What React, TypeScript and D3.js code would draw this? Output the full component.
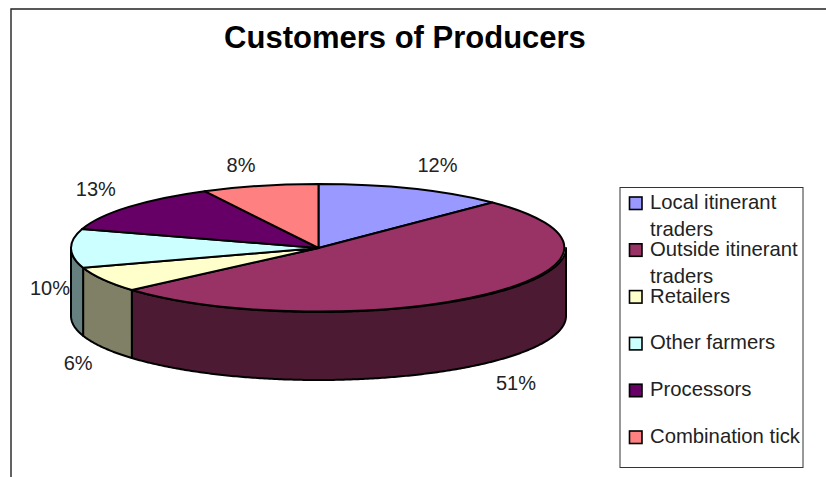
import React from 'react';
import * as d3 from 'd3';

const categories = ['Local itinerant traders', 'Outside itinerant traders', 'Retailers', 'Other farmers', 'Processors', 'Combination tick'];
const shares = [12.4, 51.2, 6.4, 9.8, 12.6, 7.6];
const topColors = ['#9999FF', '#993366', '#FFFFCC', '#CCFFFF', '#660066', '#FF8080'];
const legendLines = [['Local itinerant', 'traders'], ['Outside itinerant', 'traders'], ['Retailers'], ['Other farmers'], ['Processors'], ['Combination tick']];
// label nudge away from the rim of each slice, in px
const labelNudge = [[25, -24], [28, 20], [-25, 15], [-21, -28], [-33, -18], [-19, -21]];

const WIDTH = 826;
const HEIGHT = 477;
const cx = 318.5;
const cy = 248;
const rx = 247.5;
const ry = 64;
const depth = 68;

const rimX = (a: number) => cx + rx * Math.sin(a);
const rimY = (a: number) => cy - ry * Math.cos(a);

const pie = d3.pie<number>().sort(null).value(d => d);
const slices = pie(shares);
const unitArc = d3.arc<d3.PieArcDatum<number>>().innerRadius(0).outerRadius(1);

const wall = d3.area<number>().x(rimX).y0(rimY).y1(a => rimY(a) + depth);

const darken = (c: string) => {
  const col = d3.rgb(c);
  return d3.rgb(col.r * 0.5, col.g * 0.5, col.b * 0.5).formatHex();
};

const legendY = d3.scalePoint<number>().domain(d3.range(categories.length)).range([203, 437]);

const App = () => {
  return (
    <svg
      width={WIDTH}
      height={HEIGHT}
      style={{position: 'absolute', left: 0, top: 0, background: '#fff', fontFamily: '"Liberation Sans", Arial, sans-serif'}}
    >
      <path d={`M11,${HEIGHT}V9H${WIDTH}`} fill="none" stroke="#222" strokeWidth={1.4} />
      <text x={405} y={48} textAnchor="middle" fontSize={31} fontWeight="bold" fill="#000">Customers of Producers</text>

      {slices.map((s, i) => {
        const a0 = Math.max(s.startAngle, Math.PI / 2);
        const a1 = Math.min(s.endAngle, (3 * Math.PI) / 2);
        if (a1 <= a0) return null;
        const steps = d3.range(a0, a1, 0.01).concat([a1]);
        return <path key={i} d={wall(steps) as string} fill={darken(topColors[i])} stroke="#000" strokeWidth={2} strokeLinejoin="round" />;
      })}

      {slices.map((s, i) => (
        <path
          key={i}
          d={unitArc(s) as string}
          transform={`translate(${cx},${cy}) scale(${rx},${ry})`}
          vectorEffect="non-scaling-stroke"
          fill={topColors[i]}
          stroke="#000"
          strokeWidth={2}
          strokeLinejoin="round"
        />
      ))}

      {slices.map((s, i) => {
        const mid = (s.startAngle + s.endAngle) / 2;
        const front = Math.cos(mid) < 0 ? depth : 0;
        return (
          <text key={i} x={rimX(mid) + labelNudge[i][0]} y={rimY(mid) + front + labelNudge[i][1] + 7} textAnchor="middle" fontSize={20} fill="#222">
            {Math.round(shares[i])}%
          </text>
        );
      })}

      <rect x={620} y={187.5} width={183} height={280} fill="#fff" stroke="#333" strokeWidth={1} />
      {categories.map((c, i) => (
        <g key={c}>
          <rect x={629.5} y={legendY(i)! - 6} width={12.5} height={12.5} fill={topColors[i]} stroke="#000" strokeWidth={1.6} />
          {legendLines[i].map((t, j) => (
            <text key={t} x={650} y={legendY(i)! + 6 + j * 27} fontSize={20.3} fill="#222">{t}</text>
          ))}
        </g>
      ))}
    </svg>
  );
};

export default App;
